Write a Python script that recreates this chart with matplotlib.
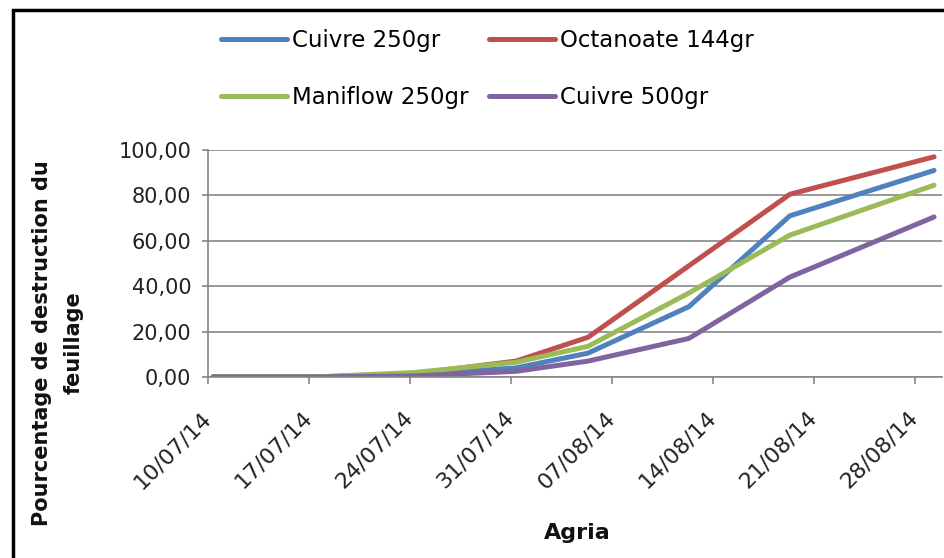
import datetime as dt

import matplotlib
matplotlib.use("Agg")
import matplotlib.dates as mdates
from matplotlib import pyplot as plt
from matplotlib.patches import Rectangle
from matplotlib.ticker import FuncFormatter, MultipleLocator
from matplotlib.transforms import ScaledTranslation

# observation dates and % leaf destruction per treatment
dates = ["10/07/14", "17/07/14", "24/07/14", "31/07/14", "05/08/14", "12/08/14", "19/08/14", "29/08/14"]
cuivre_250 = [0, 0, 1.0, 4.0, 10.5, 31.0, 71.0, 91.0]
octanoate_144 = [0, 0, 1.5, 7.0, 17.5, 49.0, 80.5, 97.0]
maniflow_250 = [0, 0, 2.0, 6.5, 13.5, 37.0, 62.5, 84.5]
cuivre_500 = [0, 0, 0.5, 2.5, 7.0, 17.0, 44.0, 70.5]
tick_dates = ["10/07/14", "17/07/14", "24/07/14", "31/07/14", "07/08/14", "14/08/14", "21/08/14", "28/08/14"]

plt.rcParams["font.family"] = ["DejaVu Sans"]

x = [dt.datetime.strptime(d, "%d/%m/%y") for d in dates]
xt = [mdates.date2num(dt.datetime.strptime(d, "%d/%m/%y")) - 0.35 for d in tick_dates]
d0 = mdates.date2num(x[0])

fig = plt.figure(figsize=(9.45, 5.58), dpi=100)
ax = fig.add_axes([208 / 945, 1 - 377 / 558, (942 - 208) / 945, (377 - 150) / 558])

grey = "#868686"
l1, = ax.plot(x, cuivre_250, color="#4F81BD", lw=3.6, solid_capstyle="round", label="Cuivre 250gr")
l2, = ax.plot(x, octanoate_144, color="#C0504D", lw=3.6, solid_capstyle="round", label="Octanoate 144gr")
l3, = ax.plot(x, maniflow_250, color="#9BBB59", lw=3.6, solid_capstyle="round", label="Maniflow 250gr")
l4, = ax.plot(x, cuivre_500, color="#8064A2", lw=3.6, solid_capstyle="round", label="Cuivre 500gr")

ax.set_xlim(d0 - 0.35, d0 + 50.55)
ax.set_ylim(0, 100)
ax.yaxis.set_major_locator(MultipleLocator(20))
ax.yaxis.set_major_formatter(FuncFormatter(lambda v, p: f"{v:.2f}".replace(".", ",")))
ax.set_xticks(xt)
ax.set_xticklabels(tick_dates, rotation=45, ha="right", va="center", rotation_mode="anchor")
shift = ScaledTranslation(10 / 100, 0, fig.dpi_scale_trans)
for lab in ax.get_xticklabels():
    lab.set_transform(lab.get_transform() + shift)

ax.grid(axis="y", color=grey, lw=1.2)
ax.set_axisbelow(True)
for s in ["top", "right"]:
    ax.spines[s].set_visible(False)
for s in ["left", "bottom"]:
    ax.spines[s].set_color(grey)
    ax.spines[s].set_linewidth(1.2)
ax.tick_params(axis="y", direction="out", length=4, width=1.2, color=grey, pad=8, labelsize=15, labelcolor="#222222")
ax.tick_params(axis="x", direction="out", length=5, width=1.2, color=grey, pad=22, labelsize=16, labelcolor="#222222")

fig.legend([l1, l3, l2, l4], [l.get_label() for l in [l1, l3, l2, l4]],
           ncol=2, loc="center", bbox_to_anchor=(487 / 945, 1 - 69 / 558),
           frameon=False, fontsize=16.5, handlelength=2.9, handletextpad=0.2,
           columnspacing=0.9, labelspacing=1.5)

fig.text(58 / 945, 1 - 343 / 558, "Pourcentage de destruction du\nfeuillage", rotation=90,
         ha="center", va="center", multialignment="center", fontsize=15,
         fontweight="bold", linespacing=1.75, color="#111111")
fig.text(577 / 945, 1 - 533 / 558, "Agria", ha="center", va="center", fontsize=16,
         fontweight="bold", color="#111111")

fig.patches.append(Rectangle((13 / 945, -0.1), 2, 1 - 10 / 558 + 0.1, fill=False,
                             lw=2.5, edgecolor="black", transform=fig.transFigure))

fig.savefig("out.png", dpi=100)
